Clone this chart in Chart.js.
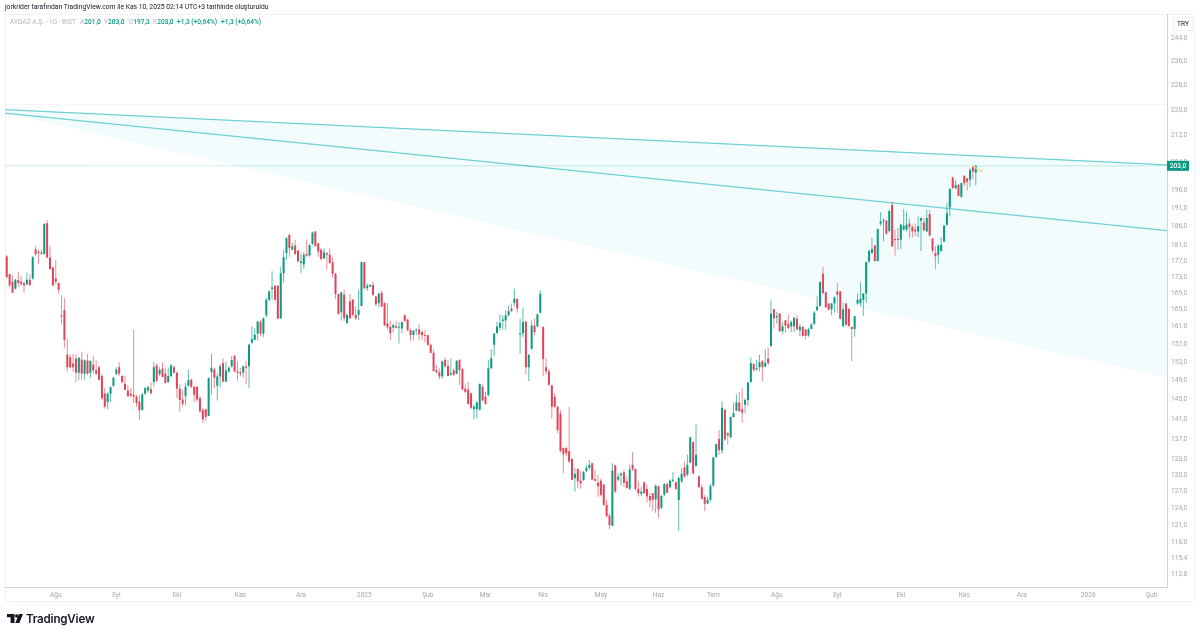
<!DOCTYPE html>
<html>
<head>
<meta charset="utf-8">
<script src="https://cdn.jsdelivr.net/npm/chart.js@4/dist/chart.umd.min.js"></script>
<style>
html, body { margin: 0; padding: 0; background: #fff; width: 1200px; height: 636px; overflow: hidden; }
body { position: relative; font-family: Roboto, sans-serif; }
canvas { position: absolute; left: 0; top: 0; }
.frame { position: absolute; left: 5px; top: 14px; width: 1190px; height: 588px; border: 1px solid #f0f3fa; box-sizing: border-box; }
.title { position: absolute; left: 5px; top: 3px; font-size: 6.75px; line-height: 8px; color: #131722; white-space: nowrap; }
.legend { position: absolute; left: 10px; top: 18px; font-size: 6.6px; line-height: 8px; color: #089981; white-space: nowrap; font-weight: 500; }
.legend i { font-style: normal; font-weight: 400; color: #b2b5be; }
.legend span { position: absolute; top: 0; }
.cur { position: absolute; left: 1173px; top: 17px; width: 20px; height: 14px; border: 1px solid #f0f3fa; box-sizing: border-box; font-size: 6.6px; line-height: 12px; text-align: center; color: #131722; }
.brand { position: absolute; left: 26px; top: 611px; font: 600 11.6px/17px Inter, sans-serif; color: #131722; letter-spacing: -0.2px; }
.logo { position: absolute; left: 7px; top: 614px; }
</style>
</head>
<body>
<div class="frame"></div>
<canvas id="chart" width="1200" height="636"></canvas>
<div class="title">jorkrider tarafından TradingView.com ile Kas 10, 2025 02:14 UTC+3 tarihinde oluşturuldu</div>
<div class="legend"><i>AYGAZ A.Ş. · 1G · BIST</i>
  <span style="left:70px"><i>A</i>201,0</span>
  <span style="left:94px"><i>Y</i>203,0</span>
  <span style="left:119px"><i>D</i>197,3</span>
  <span style="left:143px"><i>K</i>203,0</span>
  <span style="left:167px">+1,3 (+0,64%)</span>
  <span style="left:211px">+1,3 (+0,64%)</span>
</div>
<div class="cur">TRY</div>
<svg class="logo" width="16" height="10" viewBox="0 0 16 10"><path d="M0 0H7.5V9H3.6V3.2H0Z M9.6 0.2A1.7 1.7 0 1 1 9.6 3.6A1.7 1.7 0 1 1 9.6 0.2Z M12 0H16L12.4 9H8.3Z" fill="#131722"/></svg>
<div class="brand">TradingView</div>
<script>
const opens = [
  178.2,173.7,171.8,170.1,172.2,171.8,171.4,171.2,172.3,172.6,
  180.0,179.4,178.9,178.8,186.9,177.9,175.4,172.6,171.5,163.7,
  164.9,154.7,154.1,152.7,153.8,150.7,153.6,150.5,153.4,150.7,
  152.5,151.2,151.9,150.0,146.3,144.5,146.2,147.9,150.4,151.9,
  150.0,148.3,146.9,146.2,146.0,145.6,144.5,142.8,146.2,146.9,
  147.2,148.7,152.3,150.4,151.6,150.5,148.7,150.0,151.9,150.7,
  147.3,145.0,145.7,147.9,149.2,147.7,147.7,145.3,142.8,143.0,
  141.6,150.8,151.4,147.9,149.9,152.8,148.8,151.0,152.1,154.4,
  151.0,150.8,150.7,152.1,152.1,157.4,158.0,159.4,162.2,159.4,
  163.7,167.4,170.0,170.8,170.8,163.0,173.9,179.0,183.8,179.9,
  181.0,179.7,176.5,176.1,178.8,178.4,181.4,184.7,181.6,179.9,
  177.7,179.0,178.6,176.7,173.8,168.8,164.4,168.6,161.9,167.0,
  167.4,163.8,163.8,165.9,176.7,170.2,170.6,171.0,168.2,166.6,
  169.1,166.6,161.8,161.0,160.8,161.2,160.8,160.6,163.7,162.7,
  160.2,159.1,160.1,160.4,159.8,159.1,159.1,156.9,155.1,151.3,
  150.8,149.9,153.5,152.2,150.3,151.2,150.5,153.5,151.5,147.3,
  147.1,146.3,143.0,143.0,142.9,147.7,145.6,145.9,151.7,156.9,
  159.6,160.8,162.4,162.5,163.7,165.3,166.6,167.6,159.2,159.5,
  162.2,151.9,156.0,161.3,161.1,164.3,161.0,151.9,151.0,148.0,
  145.6,143.5,142.1,135.2,135.2,134.6,133.1,129.5,131.2,129.0,
  129.1,130.8,131.4,132.3,129.3,128.6,129.0,128.3,124.6,122.7,
  120.9,131.9,129.2,130.0,130.6,128.9,127.5,132.0,131.2,127.5,
  126.6,128.7,127.5,126.2,126.7,125.6,128.0,124.1,126.4,128.4,
  127.8,129.0,128.7,125.5,128.9,131.5,130.1,132.4,136.4,131.8,
  129.8,127.8,126.0,124.8,125.5,128.1,133.5,137.0,134.8,142.9,
  138.1,137.3,141.4,142.7,144.4,143.0,143.9,144.9,148.7,152.6,
  151.5,151.9,153.2,152.0,153.8,156.6,165.1,163.2,164.1,160.0,
  162.5,161.7,161.1,161.1,162.9,160.2,161.0,160.4,159.0,160.5,
  161.7,164.9,165.9,173.8,169.2,166.5,165.1,166.5,169.4,169.4,
  161.1,166.5,165.2,161.0,160.5,166.5,166.6,167.4,168.9,176.9,
  179.0,181.0,177.0,186.8,187.4,187.6,184.8,191.9,182.7,182.7,
  182.5,185.2,185.2,186.8,185.9,185.2,184.7,187.6,187.1,184.7,
  189.4,182.8,179.0,178.6,179.6,182.1,186.5,191.2,199.6,196.6,
  197.5,194.2,200.1,199.4,199.0,202.8,201.0
];
const highs = [
  178.6,173.8,173.4,172.6,174.3,173.3,171.8,174.1,173.6,178.2,
  180.9,179.9,179.9,186.9,187.8,180.9,175.4,177.3,171.5,168.5,
  167.9,158.3,154.7,154.8,154.8,154.1,155.3,153.6,154.9,153.4,
  154.4,153.4,152.3,150.5,147.4,146.6,147.7,149.8,151.9,153.0,
  150.2,150.0,148.0,147.4,160.4,146.0,146.0,146.3,147.7,147.9,
  148.7,153.0,152.7,151.9,153.0,151.8,151.9,152.6,152.3,150.9,
  148.2,147.0,148.6,151.4,149.4,147.8,147.7,145.7,143.3,143.1,
  149.6,154.8,151.8,150.7,152.6,153.9,153.2,152.1,154.4,154.6,
  153.2,151.8,152.3,153.3,157.1,161.1,160.7,162.4,162.6,163.2,
  167.8,169.8,174.4,171.0,171.0,175.6,179.9,183.2,184.1,181.8,
  182.5,179.9,179.0,179.4,182.5,181.4,184.7,184.8,181.6,180.3,
  180.3,179.2,180.3,178.0,174.0,168.9,169.3,169.8,164.0,168.8,
  167.6,165.8,169.8,176.8,176.8,171.4,171.2,171.8,168.3,169.1,
  169.6,166.8,166.6,162.4,161.8,162.4,162.2,162.3,163.9,162.9,
  160.6,160.2,160.7,161.6,160.2,160.2,159.1,157.2,155.8,152.4,
  151.7,153.3,154.1,153.5,153.9,151.7,153.5,153.7,151.7,148.4,
  148.7,146.4,143.9,144.6,148.4,148.1,146.6,153.5,155.9,159.6,
  162.2,163.9,163.7,164.9,166.1,166.5,170.1,167.7,162.9,165.5,
  162.3,154.9,162.5,162.9,164.1,169.7,161.1,153.9,151.5,148.1,
  146.3,143.7,142.9,135.3,135.5,143.5,133.3,131.5,131.4,130.8,
  130.8,132.0,132.9,132.4,131.1,130.1,129.4,128.4,125.5,123.0,
  132.3,132.0,130.4,130.6,131.1,129.8,132.0,134.4,131.4,128.9,
  128.0,128.9,128.3,126.7,126.7,128.3,128.1,126.4,128.6,128.6,
  129.3,130.6,128.9,129.8,131.4,132.6,133.9,137.5,136.5,139.9,
  130.0,128.3,126.4,126.1,128.4,133.6,136.1,138.8,144.6,143.0,
  138.4,141.5,144.4,146.1,146.6,147.3,145.3,148.7,154.1,152.9,
  153.5,154.6,153.5,155.9,156.3,167.3,165.3,164.5,164.2,162.1,
  162.6,163.9,162.5,163.3,163.7,161.7,161.2,160.5,160.8,161.9,
  164.7,168.2,171.9,175.6,169.4,166.6,166.6,168.2,171.5,169.6,
  166.6,166.6,165.4,161.1,163.6,168.9,171.7,169.0,176.9,179.9,
  183.0,181.2,185.5,189.9,188.3,187.8,190.5,192.8,185.2,185.6,
  186.8,190.7,190.1,188.1,186.5,186.8,188.7,188.4,188.3,190.5,
  190.5,183.0,180.8,181.2,183.2,186.5,192.4,196.6,199.9,198.8,
  197.8,198.2,200.3,199.5,202.3,203.1,203.1
];
const lows = [
  172.6,170.5,169.1,169.9,170.5,170.9,169.1,170.9,170.9,172.3,
  178.2,176.2,178.6,178.6,177.7,174.8,170.7,171.2,168.9,161.6,
  156.2,150.9,151.6,150.9,148.7,149.1,149.1,149.2,150.2,149.6,
  150.5,150.2,149.1,144.9,143.1,143.0,144.5,147.7,150.2,150.0,
  148.4,147.0,145.6,145.5,144.3,143.5,140.8,142.8,146.0,146.4,
  146.1,147.7,148.7,150.0,149.8,148.4,148.6,149.8,150.5,145.3,
  142.5,143.6,143.8,147.7,147.3,144.5,144.5,142.2,140.2,140.6,
  141.6,146.1,147.4,144.8,147.6,148.6,148.7,150.7,151.8,150.8,
  149.0,149.9,149.6,148.2,147.4,157.1,158.3,157.9,158.8,158.6,
  163.2,167.0,167.4,167.2,162.9,162.9,171.6,177.3,178.1,179.8,
  178.6,176.7,174.0,175.0,178.0,178.1,181.1,180.7,178.0,177.3,
  177.5,175.0,176.3,172.8,167.5,163.8,162.5,162.4,161.7,162.8,
  163.4,162.6,162.6,165.9,170.0,169.6,170.6,168.3,165.9,165.6,
  165.6,161.2,160.3,157.9,159.7,160.6,157.2,159.6,162.1,160.0,
  157.8,158.0,159.1,158.0,157.9,157.4,156.6,155.0,150.9,150.6,
  149.3,149.4,151.7,149.9,150.0,150.0,150.3,148.1,147.0,146.3,
  143.9,143.0,141.0,141.2,142.7,144.6,143.9,145.7,151.5,154.3,
  159.4,160.2,160.4,160.4,163.5,164.5,165.8,164.3,154.9,158.6,
  150.3,148.9,155.7,159.1,160.9,164.1,150.0,150.3,147.9,141.1,
  143.3,138.2,134.4,130.4,133.6,132.4,129.1,127.0,127.7,127.5,
  129.0,130.6,131.1,129.1,128.9,126.0,126.1,124.4,122.4,120.3,
  120.8,126.7,128.9,128.1,127.8,127.5,127.3,130.8,127.2,126.1,
  126.2,126.6,125.0,124.2,123.5,123.2,122.3,123.8,126.1,126.7,
  127.6,128.7,127.3,120.0,128.6,129.5,129.8,132.3,130.1,131.7,
  127.6,125.5,123.5,124.8,125.2,127.9,133.3,133.9,134.1,136.6,
  135.9,137.3,141.3,142.6,142.4,140.3,142.1,143.6,148.6,150.8,
  151.0,151.0,148.9,151.9,152.4,156.5,160.6,161.7,159.8,159.4,
  159.6,160.5,159.8,159.8,160.2,158.9,158.7,158.1,158.7,160.5,
  161.5,164.7,165.7,168.8,165.4,164.7,163.7,164.3,164.3,162.7,
  161.1,161.3,161.1,153.2,158.7,166.2,165.8,163.6,166.6,176.5,
  179.0,176.9,176.9,186.2,182.1,183.9,184.5,180.6,178.4,179.9,
  180.1,184.9,184.7,183.0,183.0,183.4,183.2,179.6,184.7,184.5,
  183.4,179.0,175.0,176.3,179.4,181.8,186.2,188.7,196.3,196.3,
  194.2,193.8,197.2,195.9,197.0,199.0,197.3
];
const closes = [
  173.0,170.9,169.1,172.3,171.5,171.2,170.9,172.3,170.9,178.0,
  178.8,179.0,179.2,186.7,177.9,175.0,170.9,171.8,169.8,163.4,
  158.0,151.9,151.9,151.9,150.7,154.0,150.5,153.4,150.5,153.3,
  151.2,150.5,149.2,145.3,143.5,146.2,147.6,149.6,151.4,150.5,
  148.7,147.0,145.7,145.8,145.6,144.3,142.8,146.1,147.4,147.6,
  146.3,151.9,149.0,151.3,149.8,148.5,150.0,152.3,150.7,147.3,
  144.9,144.1,147.7,149.1,147.7,146.0,145.0,142.6,140.9,141.4,
  149.6,151.8,149.6,149.9,152.1,148.8,151.2,151.8,153.5,151.0,
  150.7,150.5,152.1,151.8,156.9,158.2,159.2,162.2,159.4,163.0,
  167.4,169.4,170.4,167.4,162.9,173.9,178.0,182.9,180.3,180.8,
  178.8,176.9,176.9,178.6,178.4,181.1,184.4,180.9,179.4,177.5,
  179.2,178.6,176.5,173.8,168.8,164.0,169.2,163.0,163.8,163.0,
  163.8,163.0,165.0,176.7,170.2,170.8,171.0,168.6,166.3,168.9,
  165.8,161.4,160.9,159.5,161.4,160.8,161.0,162.1,162.4,160.2,
  159.1,160.1,160.2,159.3,159.1,158.9,156.9,155.1,151.1,150.8,
  149.9,153.2,152.1,150.0,150.6,150.3,153.3,151.3,147.1,146.6,
  144.1,143.3,143.5,144.4,148.3,144.8,144.1,151.7,153.9,159.4,
  161.1,161.9,162.7,163.7,164.7,164.7,167.7,165.3,159.5,162.1,
  151.9,154.6,161.3,159.8,163.9,168.8,153.7,151.0,148.1,143.5,
  143.5,138.8,134.6,134.0,134.2,132.6,129.2,130.3,128.9,128.5,
  130.6,131.4,132.0,129.2,129.0,128.0,126.4,124.6,122.6,121.0,
  130.9,127.0,129.8,130.3,128.6,127.7,131.1,131.1,127.5,126.7,
  127.0,126.7,126.1,125.4,125.5,128.1,123.8,126.2,128.4,126.8,
  129.0,129.2,127.5,129.5,130.3,129.8,132.0,137.3,130.4,133.9,
  127.8,125.7,124.8,125.5,128.0,133.4,136.0,134.8,143.3,136.9,
  137.7,141.4,142.2,144.4,142.6,142.3,144.9,148.6,152.8,151.3,
  151.7,153.0,151.9,152.9,152.8,164.1,163.0,163.5,160.0,161.1,
  161.3,160.7,162.1,163.1,160.4,161.0,158.9,158.9,160.4,161.5,
  164.3,165.8,171.7,169.0,165.6,165.1,166.5,168.0,168.6,162.9,
  165.1,161.5,161.2,160.5,163.5,167.4,167.6,168.9,176.7,179.6,
  180.1,177.0,185.3,187.4,187.6,184.1,190.2,180.8,182.4,182.4,
  186.5,186.2,186.5,185.9,184.7,184.7,186.1,188.3,185.0,188.3,
  183.6,179.7,178.2,181.0,181.2,186.2,189.6,196.3,196.6,197.5,
  194.4,198.0,198.0,198.4,201.8,201.3,203.0
];

// fiyat ekseni
const priceTicks = [244,236,228,220,212,204,196,191,186,181,177,173,169,165,161,157,153,149,145,141,137,133,130,127,124,121,118,115.4,112.8];

// zaman ekseni: mum sirasi ve etiket
const monthIndex = [17,38,59,81,102,124,146,166,186,206,226,245,267,288,310,332,352,375,397];
const monthLabels = ['Ağu','Eyl','Eki','Kas','Ara','2025','Şub','Mar','Nis','May','Haz','Tem','Ağu','Eyl','Eki','Kas','Ara','2026','Şub'];

// trend cizgileri (sol ve sag uc fiyatlari)
const upperTrend = [220.1, 203.3];
const lowerTrend = [219.0, 184.9];
const channelEdge = [219.0, 149.6];
const paneLine = 221.7;
const lastPrice = 203.0;
const markerPath = [203.0, 201.2];
const markerIndex = [334.7, 338.5];

const xMin = -0.6;
const xMax = 402.3;

const UP = '#0a9a82';
const DOWN = '#e0445a';
const UP_WICK = 'rgba(8,153,129,0.65)';
const DOWN_WICK = 'rgba(226,64,79,0.6)';
const TREND = '#6fd0d4';

function twoPoints(values) {
    return [{ x: xMin, y: values[0] }, { x: xMax, y: values[1] }];
}

function lineDataset(values, color, width, order) {
    return {
        type: 'line',
        data: twoPoints(values),
        borderColor: color,
        borderWidth: width,
        pointRadius: 0,
        tension: 0,
        order: order
    };
}

// son fiyat etiketi
const priceBadge = {
    id: 'priceBadge',
    afterDraw(chart) {
        const ctx = chart.ctx;
        const y = chart.scales.y.getPixelForValue(lastPrice);
        const left = chart.chartArea.right;
        ctx.save();
        ctx.fillStyle = UP;
        ctx.fillRect(left, y - 5, 22, 10);
        ctx.fillStyle = '#fff';
        ctx.font = '500 6.6px Roboto';
        ctx.textAlign = 'center';
        ctx.textBaseline = 'middle';
        ctx.fillText('203,0', left + 11, y + 0.5);
        ctx.restore();
    }
};

const upperFill = lineDataset(upperTrend, TREND, 1.2, 6);
upperFill.fill = { target: 4 };
upperFill.backgroundColor = 'rgba(38,198,218,0.06)';

new Chart(document.getElementById('chart'), {
    type: 'bar',
    data: {
        datasets: [
            {
                data: opens.map((o, i) => ({ x: i, y: [o, closes[i]] })),
                backgroundColor: opens.map((o, i) => closes[i] >= o ? UP : DOWN),
                barThickness: 2,
                grouped: false,
                inflateAmount: 0,
                minBarLength: 1,
                order: 1
            },
            {
                data: lows.map((l, i) => ({ x: i, y: [l, highs[i]] })),
                backgroundColor: opens.map((o, i) => closes[i] >= o ? UP_WICK : DOWN_WICK),
                barThickness: 1,
                grouped: false,
                inflateAmount: 0,
                order: 2
            },
            upperFill,
            lineDataset(lowerTrend, TREND, 1.2, 5),
            lineDataset(channelEdge, 'rgba(0,0,0,0)', 0, 7),
            lineDataset([paneLine, paneLine], '#f3f5fa', 1, 8),
            lineDataset([lastPrice, lastPrice], 'rgba(8,153,129,0.2)', 1, 4),
            {
                type: 'line',
                data: markerIndex.map((x, i) => ({ x: x, y: markerPath[i] })),
                borderColor: '#f5d79e',
                borderWidth: 1.5,
                pointRadius: 0,
                order: 0
            }
        ]
    },
    options: {
        responsive: false,
        animation: false,
        devicePixelRatio: 1,
        layout: { padding: { left: 5, right: 5, top: 14, bottom: 34 } },
        plugins: { legend: { display: false }, tooltip: { enabled: false } },
        scales: {
            x: {
                type: 'linear',
                bounds: 'data',
                min: xMin,
                max: xMax,
                offset: false,
                grid: { display: false, drawTicks: false },
                border: { display: true, color: '#d1d4dc', width: 1 },
                afterBuildTicks: s => { s.ticks = monthIndex.map(v => ({ value: v })); },
                afterFit: s => { s.height = 15; },
                ticks: {
                    autoSkip: false,
                    maxRotation: 0,
                    padding: 4,
                    color: '#a3a6af',
                    font: { family: 'Roboto', size: 6.6 },
                    callback: v => monthLabels[monthIndex.indexOf(v)]
                }
            },
            y: {
                type: 'logarithmic',
                position: 'right',
                bounds: 'data',
                min: 110.7,
                max: 252.6,
                grid: { display: false, drawTicks: false },
                border: { display: true, color: '#d1d4dc', width: 1 },
                afterBuildTicks: s => { s.ticks = priceTicks.map(v => ({ value: v })); },
                afterFit: s => { s.width = 28; },
                ticks: {
                    autoSkip: false,
                    padding: 4,
                    color: '#a3a6af',
                    font: { family: 'Roboto', size: 6.6 },
                    callback: v => v.toFixed(1).replace('.', ',')
                }
            }
        }
    },
    plugins: [priceBadge]
});
</script>
</body>
</html>
